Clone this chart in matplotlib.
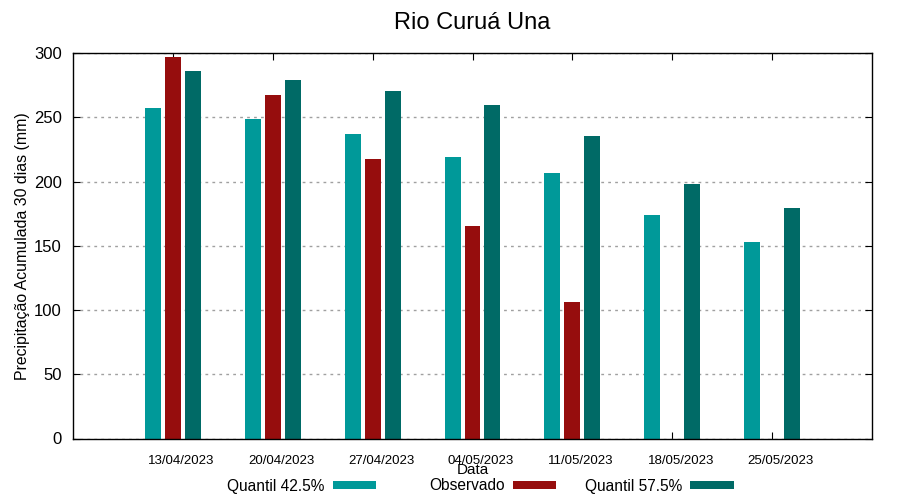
"""Rio Curuá Una: observed vs quantile 30-day accumulated precipitation."""

import matplotlib

matplotlib.use("Agg")
import matplotlib.pyplot as plt
import matplotlib.transforms as mtransforms
import numpy as np

plt.rcParams["font.family"] = ["Liberation Sans", "DejaVu Sans"]

dates = ["13/04/2023", "20/04/2023", "27/04/2023", "04/05/2023",
         "11/05/2023", "18/05/2023", "25/05/2023"]
q425 = [257.4, 248.8, 237.1, 219.1, 206.6, 173.8, 152.7]
observed = [297.0, 267.6, 217.6, 165.2, 106.6, np.nan, np.nan]
q575 = [286.3, 279.3, 270.7, 259.8, 235.5, 198.0, 179.3]

series = [
    ("Quantil 42.5%", q425, "#009999"),
    ("Observado", observed, "#960d0d"),
    ("Quantil 57.5%", q575, "#006a66"),
]

fig = plt.figure(figsize=(9, 5), dpi=100)
ax = fig.add_axes([73 / 900, 61.5 / 500, 799 / 900, 385.5 / 500])

x = np.arange(len(dates))
width = 0.16
for i, (label, vals, color) in enumerate(series):
    ax.bar(x + (i - 1) * 0.2, vals, width=width, color=color, label=label, zorder=2)

ax.set_xlim(-1, 7)
ax.set_ylim(0, 300)
ax.set_yticks(np.arange(0, 301, 50))
ax.set_xticks(x, dates)
ax.tick_params(axis="x", labelsize=9.5, direction="in", top=True, pad=12, length=5)
ax.tick_params(axis="y", labelsize=12, direction="in", right=True, pad=8, length=5)
ax.yaxis.grid(True, linestyle=(0, (2, 3)), color="#a0a0a0", linewidth=1, zorder=0)
ax.set_axisbelow(True)
for spine in ax.spines.values():
    spine.set_linewidth(1)

# date labels sit a little right of the tick in the original
shift = mtransforms.ScaledTranslation(8.5 / 100, 0, fig.dpi_scale_trans)
for tl in ax.get_xticklabels():
    tl.set_transform(tl.get_transform() + shift)

ax.set_title("Rio Curuá Una", fontsize=17, pad=17)
ax.set_ylabel("Precipitação Acumulada 30 dias (mm)", fontsize=11.4, labelpad=3)
ax.set_xlabel("Data", fontsize=11, labelpad=-3)

# gnuplot-style key: equal-width columns, label then colour sample
handles, labels = ax.get_legend_handles_labels()
key_right = [0.418, 0.618, 0.815]
for h, lab, xr in zip(handles, labels, key_right):
    fig.legend([h], [lab], loc="center right", bbox_to_anchor=(xr, 0.028),
               frameon=False, markerfirst=False, fontsize=11.2,
               handlelength=2.8, handleheight=0.45, handletextpad=0.5,
               borderpad=0, borderaxespad=0)

fig.savefig("out.png", dpi=100)
